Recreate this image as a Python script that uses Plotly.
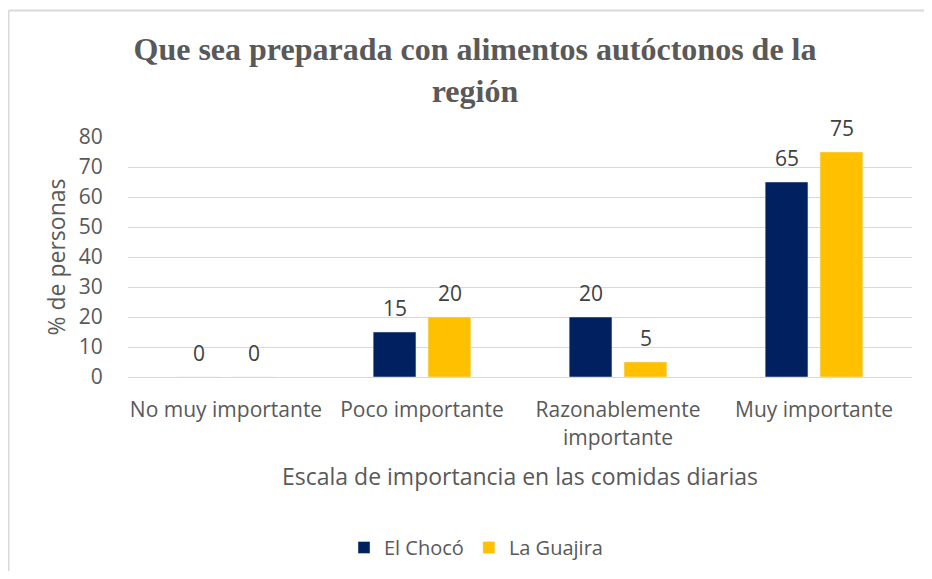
import plotly.graph_objects as go

categories = ["No muy importante", "Poco importante", "Razonablemente<br>importante", "Muy importante"]
choco = [0, 15, 20, 65]
guajira = [0, 20, 5, 75]
series_names = ["El Chocó", "La Guajira"]
y_ticks = [0, 10, 20, 30, 40, 50, 60, 70, 80]

# page body has an 8px margin, so figure coords = screen coords - 8
W, H = 924, 563
L, T = 120, 129
pw, ph = 784, 240
R = W - L - pw
B = H - T - ph

def px_x(p):
    return (p - L) / pw

def px_y(p):
    return (T + ph - p) / ph

text_color = "#595959"
label_color = "#404040"
font_family = "Open Sans, Noto Sans, sans-serif"
colors = ["#002060", "#FFC000"]

fig = go.Figure()
for name, vals, col in zip(series_names, [choco, guajira], colors):
    fig.add_trace(go.Bar(x=categories, y=vals, name=name, marker=dict(color=col)))

annotations = []
for vals, dx in zip([choco, guajira], [-27.5, 27.5]):
    for cat, v in zip(categories, vals):
        annotations.append(dict(
            x=cat, y=v, xref="x", yref="y", text=str(v), showarrow=False,
            xshift=dx, yshift=24, yanchor="middle",
            font=dict(size=21, color=label_color, family=font_family),
        ))

border = dict(color="#D9D9D9", width=2)
fig.update_layout(
    width=W, height=H,
    margin=dict(l=L, r=R, t=T, b=B),
    paper_bgcolor="white", plot_bgcolor="white",
    barmode="group", bargap=0.44, bargroupgap=0.22,
    title=dict(
        text="<b>Que sea preparada con alimentos autóctonos de la<br>región</b>",
        x=467 / W, xref="container", xanchor="center",
        y=1 - 52 / H, yref="container", yanchor="top",
        font=dict(family="Liberation Serif, Times New Roman, serif", size=32, color=text_color),
    ),
    xaxis=dict(
        showgrid=False, showline=False, zeroline=False,
        tickfont=dict(size=21, color=text_color, family=font_family),
        ticks="outside", ticklen=14, tickcolor="rgba(0,0,0,0)",
        title=dict(text="Escala de importancia en las comidas diarias",
                   font=dict(size=23, color=text_color, family=font_family), standoff=19),
    ),
    yaxis=dict(
        range=[0, 80], tickvals=y_ticks,
        showgrid=True, gridcolor="#D9D9D9", gridwidth=1.3,
        zeroline=True, zerolinecolor="#D9D9D9", zerolinewidth=1.3,
        showline=False,
        tickfont=dict(size=21, color=text_color, family=font_family),
        ticks="outside", ticklen=20, tickcolor="rgba(0,0,0,0)",
        title=dict(text="% de personas",
                   font=dict(size=23, color=text_color, family=font_family), standoff=6),
    ),
    legend=dict(
        orientation="h", x=468 / W, xref="container", xanchor="center",
        y=1 - 520 / H, yref="container", yanchor="top",
        font=dict(size=20, color=text_color, family=font_family),
        itemwidth=30, traceorder="normal",
    ),
    annotations=annotations,
    shapes=[
        dict(type="line", xref="paper", yref="paper",
             x0=px_x(0.5), x1=px_x(0.5), y0=px_y(H), y1=px_y(2.5), line=border, layer="below"),
        dict(type="line", xref="paper", yref="paper",
             x0=px_x(0.5), x1=px_x(W), y0=px_y(2.5), y1=px_y(2.5), line=border, layer="below"),
    ],
)

fig.write_html("out.html")
